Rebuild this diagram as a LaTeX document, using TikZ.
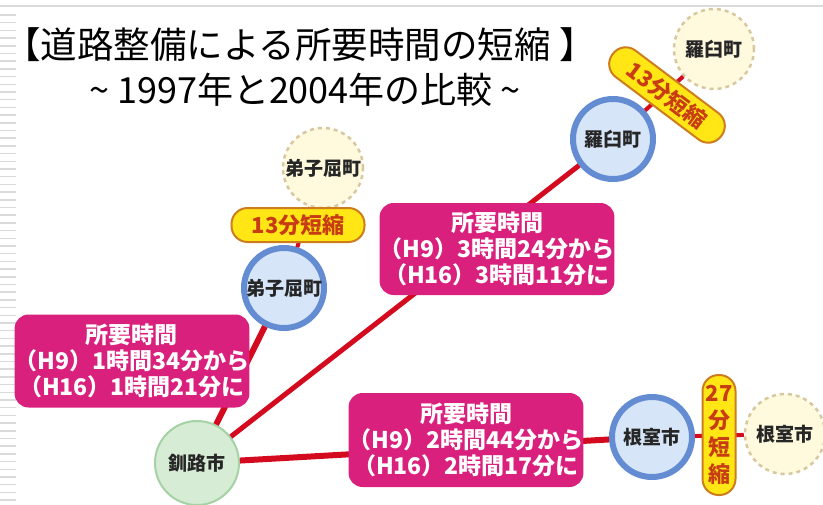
\documentclass[tikz,border=0pt]{standalone}
\usepackage{fontspec}
\setmainfont{Noto Sans CJK JP}
\usetikzlibrary{shapes.misc}
\definecolor{road}{RGB}{212,10,30}
\definecolor{mag}{RGB}{217,32,124}
\definecolor{bluefill}{RGB}{214,230,248}
\definecolor{blueedge}{RGB}{100,140,210}
\definecolor{greenfill}{RGB}{214,236,212}
\definecolor{greenedge}{RGB}{165,210,165}
\definecolor{creamfill}{RGB}{255,249,222}
\definecolor{creamedge}{RGB}{215,200,160}
\definecolor{pillfill}{RGB}{255,230,20}
\definecolor{pilledge}{RGB}{205,125,30}
\definecolor{pilltext}{RGB}{200,60,20}
\definecolor{stripe}{RGB}{218,218,218}
\begin{document}
\begin{tikzpicture}[x=1pt,y=-1pt,
  town/.style={circle, inner sep=0, font=\fontsize{19}{21}\selectfont\bfseries, text=black!85},
  newtown/.style={town, minimum size=80, fill=bluefill, draw=blueedge, line width=6},
  oldtown/.style={town, minimum size=80, fill=creamfill, draw=creamedge, line width=2.5, dash pattern=on 4pt off 4pt},
  city/.style={town, minimum size=84, fill=greenfill, draw=greenedge, line width=2},
  timebox/.style={fill=mag, rounded corners=14, text=white, font=\fontsize{23}{26}\selectfont\bfseries, align=center, inner sep=0},
  pill/.style={fill=pillfill, draw=pilledge, line width=2, rounded corners=16, text=pilltext, font=\fontsize{22}{26}\selectfont\bfseries, inner sep=3, align=center},
  road/.style={draw=road, line width=6},
  spur/.style={draw=road, line width=4}]
\useasboundingbox[fill=white] (0,0) rectangle (823,504);
% slide decoration
\draw[stripe, line width=2] (0,6) -- (823,6);
\foreach \yy in {15,22.7,...,504} \draw[stripe, line width=1.5] (0,\yy) -- (16,\yy);
% title
\node (t1) at (300,45) {\fontsize{36.5}{38}\selectfont 【道路整備による所要時間の短縮 】};
\node (t2) at (305,90) {\fontsize{36}{38}\selectfont \textasciitilde\ 1997年と2004年の比較 \textasciitilde};
% towns
\node[city] (kushiro) at (197,463) {釧路市};
\node[newtown] (teshiN) at (284,288) {弟子屈町};
\node[oldtown] (teshiO) at (323,168) {弟子屈町};
\node[newtown] (rausuN) at (613,139) {羅臼町};
\node[oldtown] (rausuO) at (714,49) {羅臼町};
\node[newtown] (nemuroN) at (652,437) {根室市};
\node[oldtown] (nemuroO) at (785,434) {根室市};
% roads
\draw[road, line width=5] (kushiro) -- (rausuN);
\draw[road] (kushiro) -- (teshiN);
\draw[road] (kushiro) -- (nemuroN);
\draw[spur] (teshiN) -- (teshiO);
\draw[spur] (rausuN) -- (rausuO);
\draw[spur] (nemuroN) -- (nemuroO);
% time boxes
\node[timebox, minimum width=231, minimum height=93] (box1) at (132,361) {所要時間\\（H9）1時間34分から\\（H16）1時間21分に};
\node[timebox, minimum width=225, minimum height=92] (box2) at (497,249) {所要時間\\（H9）3時間24分から\\（H16）3時間11分に};
\node[timebox, minimum width=227, minimum height=94] (box3) at (466,440) {所要時間\\（H9）2時間44分から\\（H16）2時間17分に};
% reductions
\node[pill, minimum width=133, minimum height=34] (p1) at (298,225) {13分短縮};
\node[pill, minimum width=136, minimum height=33, rotate=-37] (p2) at (667,95) {13分短縮};
\node[pill, minimum width=33, minimum height=120, inner sep=1, font=\fontsize{22}{27}\selectfont\bfseries] (p3) at (719,435) {27\\分\\短\\縮};
\end{tikzpicture}
\end{document}
